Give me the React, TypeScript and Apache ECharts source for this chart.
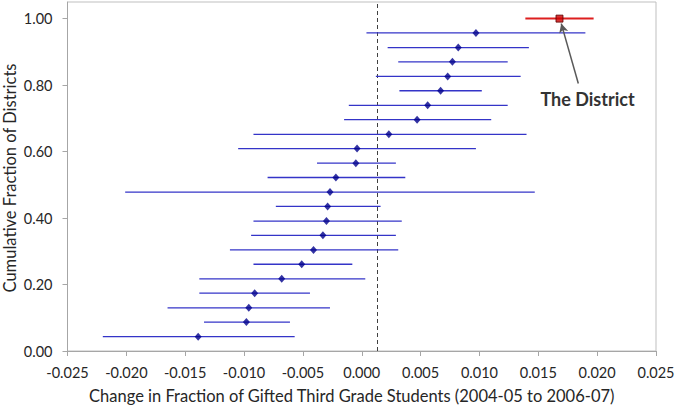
import React, { useEffect, useRef } from "react";
import * as echarts from "echarts";

// Cumulative fraction of districts (y) for each district, sorted by estimate
const cumFraction = [
  0.043, 0.087, 0.130, 0.174, 0.217, 0.261, 0.304, 0.348, 0.391, 0.435, 0.478,
  0.522, 0.565, 0.609, 0.652, 0.696, 0.739, 0.783, 0.826, 0.870, 0.913, 0.957,
];
const estimate = [
  -0.0139, -0.0098, -0.0096, -0.0091, -0.0068, -0.0051, -0.0041, -0.0033,
  -0.0030, -0.0029, -0.0027, -0.0022, -0.0005, -0.0004, 0.0023, 0.0047,
  0.0056, 0.0067, 0.0073, 0.0077, 0.0082, 0.0097,
];
const lower = [
  -0.0220, -0.0134, -0.0165, -0.0138, -0.0138, -0.0092, -0.0112, -0.0094,
  -0.0092, -0.0073, -0.0201, -0.0080, -0.0038, -0.0105, -0.0092, -0.0015,
  -0.0011, 0.0032, 0.0012, 0.0031, 0.0022, 0.0004,
];
const upper = [
  -0.0057, -0.0061, -0.0027, -0.0044, 0.0003, -0.0008, 0.0031, 0.0029,
  0.0034, 0.0016, 0.0147, 0.0037, 0.0029, 0.0097, 0.0140, 0.0110,
  0.0124, 0.0102, 0.0135, 0.0124, 0.0142, 0.0190,
];

// The District
const districtY = 1.0;
const districtEstimate = 0.0168;
const districtLower = 0.0139;
const districtUpper = 0.0197;

const referenceLine = 0.0013;

const yTicks = [0, 0.2, 0.4, 0.6, 0.8, 1.0];

const FONT = "Lato";

export default function App() {
  const ref = useRef<HTMLDivElement>(null);

  useEffect(() => {
    if (!ref.current) return;
    const chart = echarts.init(ref.current, undefined, { renderer: "svg" });

    const barData = cumFraction.map((y, i) => [lower[i], upper[i], y]);
    const pointData = cumFraction.map((y, i) => [estimate[i], y]);

    const option: any = {
      animation: false,
      backgroundColor: "#ffffff",
      grid: {
        left: 67.5,
        right: 21,
        top: 2,
        bottom: 57,
        containLabel: false,
        outerBoundsMode: "none",
        show: true,
        borderColor: "#bfbfbf",
        borderWidth: 1,
        backgroundColor: "transparent",
      },
      xAxis: {
        type: "value",
        min: -0.025,
        max: 0.025,
        interval: 0.005,
        name: "Change in Fraction of Gifted Third Grade Students (2004-05 to 2006-07)",
        nameLocation: "middle",
        nameGap: 36,
        nameTextStyle: { fontFamily: FONT, fontSize: 16.5, color: "#262626", padding: [0, 20, 0, 0] },
        axisLine: { onZero: false, lineStyle: { color: "#a6a6a6" } },
        axisTick: { show: true, length: 5, lineStyle: { color: "#a6a6a6" } },
        splitLine: { show: false },
        axisLabel: {
          fontFamily: FONT,
          fontSize: 14.5,
          color: "#262626",
          margin: 14,
          formatter: (v: number) => v.toFixed(3),
        },
      },
      yAxis: {
        type: "value",
        min: 0,
        max: 1.05,
        axisLine: { show: true, onZero: false, lineStyle: { color: "#a6a6a6" } },
        axisTick: { show: true, length: 5, customValues: yTicks, lineStyle: { color: "#a6a6a6" } },
        splitLine: { show: false },
        axisLabel: {
          fontFamily: FONT,
          fontSize: 14.5,
          color: "#262626",
          margin: 15,
          customValues: yTicks,
          formatter: (v: number) => v.toFixed(2),
        },
      },
      series: [
        {
          type: "custom",
          name: "ranges",
          data: barData,
          encode: { x: [0, 1], y: 2 },
          renderItem: (params: any, api: any) => {
            const p1 = api.coord([api.value(0), api.value(2)]);
            const p2 = api.coord([api.value(1), api.value(2)]);
            return {
              type: "line",
              shape: { x1: p1[0], y1: p1[1], x2: p2[0], y2: p2[1] },
              style: { stroke: "#3434c8", lineWidth: 1.3 },
            };
          },
          z: 2,
        },
        {
          type: "custom",
          name: "district range",
          data: [[districtLower, districtUpper, districtY]],
          encode: { x: [0, 1], y: 2 },
          renderItem: (params: any, api: any) => {
            const p1 = api.coord([api.value(0), api.value(2)]);
            const p2 = api.coord([api.value(1), api.value(2)]);
            return {
              type: "line",
              shape: { x1: p1[0], y1: p1[1], x2: p2[0], y2: p2[1] },
              style: { stroke: "#dd1f1f", lineWidth: 2 },
            };
          },
          z: 2,
        },
        {
          type: "scatter",
          name: "estimates",
          data: pointData,
          symbol: "diamond",
          symbolSize: [7, 8],
          itemStyle: { color: "#00008b" },
          z: 4,
          markLine: {
            silent: true,
            symbol: "none",
            precision: 5,
            label: { show: false },
            lineStyle: { color: "#404040", type: [4, 3], width: 1 },
            data: [{ xAxis: referenceLine }],
            z: 1,
          },
        },
        {
          type: "scatter",
          name: "The District",
          data: [[districtEstimate, districtY]],
          symbol: "rect",
          symbolSize: 7,
          itemStyle: { color: "#cc0000", borderColor: "#5a0000", borderWidth: 1 },
          z: 5,
          markLine: {
            silent: true,
            symbol: ["none", "arrow"],
            symbolSize: [7, 9],
            precision: 5,
            label: { show: false },
            lineStyle: { color: "#595959", type: "solid", width: 1.5 },
            data: [[{ coord: [0.0184, 0.805] }, { coord: [0.01695, 0.985] }]],
          },
        },
      ],
      graphic: [
        {
          type: "text",
          x: 10,
          y: 178,
          rotation: Math.PI / 2,
          style: {
            text: "Cumulative Fraction of Districts",
            fontFamily: FONT,
            fontSize: 16.5,
            fill: "#262626",
            textAlign: "center",
            textVerticalAlign: "middle",
          },
        },
        {
          type: "text",
          x: 587.5,
          y: 99,
          style: {
            text: "The District",
            fontFamily: FONT,
            fontWeight: "bold",
            fontSize: 18,
            fill: "#333333",
            textAlign: "center",
            textVerticalAlign: "middle",
          },
        },
      ],
    };

    chart.setOption(option);
    return () => chart.dispose();
  }, []);

  return (
    <div
      ref={ref}
      style={{ position: "fixed", left: 0, top: 0, width: 677, height: 408 }}
    />
  );
}
